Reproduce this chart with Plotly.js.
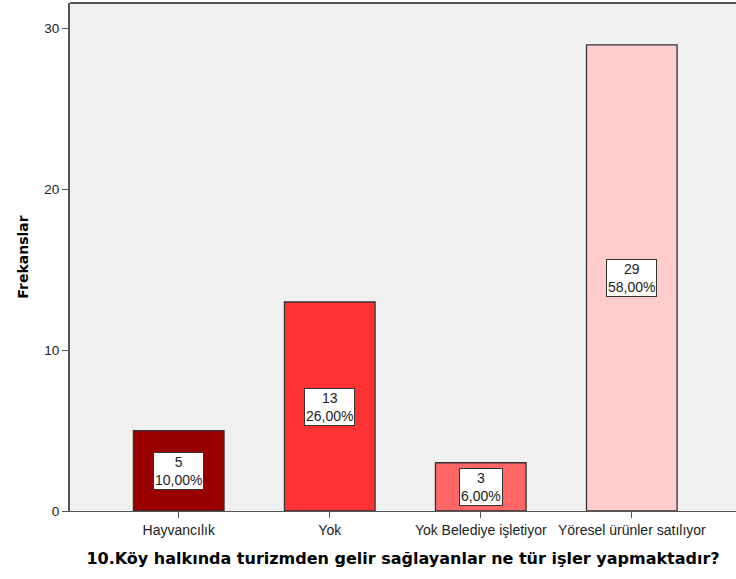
<!DOCTYPE html>
<html>
<head>
<meta charset="utf-8">
<script src="https://cdn.plot.ly/plotly-3.0.1.min.js"></script>
<style>html,body{margin:0;padding:0;background:#fff;}#chart{width:736px;height:579px;}</style>
</head>
<body>
<div id="chart"></div>
<script>
var categories = ["Hayvancılık", "Yok", "Yok Belediye işletiyor", "Yöresel ürünler satılıyor"];
var counts = [5, 13, 3, 29];
var percents = ["10,00%", "26,00%", "6,00%", "58,00%"];
var barColors = ["#990000", "#ff3333", "#ff6666", "#ffcccc"];
var yTicks = [0, 10, 20, 30];

var trace = {
  type: "bar",
  x: categories,
  y: counts,
  width: 0.6,
  marker: {color: barColors, line: {color: "#333333", width: 1.3}},
  hoverinfo: "none"
};

var annotations = categories.map(function (c, i) {
  return {
    x: c, y: counts[i] / 2, xref: "x", yref: "y",
    text: counts[i] + "<br>" + percents[i],
    showarrow: false,
    bgcolor: "#ffffff", bordercolor: "#333333", borderwidth: 1, borderpad: 1,
    font: {family: "Liberation Sans, Arial, sans-serif", size: 14, color: "#222"},
    align: "center"
  };
});

var layout = {
  width: 736, height: 579,
  margin: {l: 70, r: 0, t: 3, b: 68},
  paper_bgcolor: "#ffffff",
  plot_bgcolor: "#f0f0f0",
  showlegend: false,
  font: {family: "Liberation Sans, Arial, sans-serif", color: "#222"},
  xaxis: {
    type: "category",
    range: [-0.72, 3.69],
    showgrid: false, zeroline: false,
    showline: true, linecolor: "#555555", linewidth: 1,
    ticks: "outside", ticklen: 6, tickcolor: "#555555",
    tickfont: {size: 14, color: "#222"},
    title: {text: "10.Köy halkında turizmden gelir sağlayanlar ne tür işler yapmaktadır?", font: {family: "DejaVu Sans, sans-serif", size: 16, color: "#000", weight: "bold"}, standoff: 16}
  },
  yaxis: {
    range: [0, 31.6],
    tickvals: yTicks,
    showgrid: false, zeroline: false,
    showline: true, linecolor: "#555555", linewidth: 2,
    ticks: "outside", ticklen: 6, tickcolor: "#555555",
    tickfont: {size: 13.5, color: "#222"},
    title: {text: "Frekanslar", font: {family: "DejaVu Sans, sans-serif", size: 14, color: "#000", weight: "bold"}, standoff: 12}
  },
  shapes: [{type: "line", xref: "paper", yref: "paper", x0: 0, x1: 1, y0: 1, y1: 1, line: {color: "#555555", width: 2}}],
  annotations: annotations
};

Plotly.newPlot("chart", [trace], layout, {displayModeBar: false, staticPlot: true});
</script>
</body>
</html>
